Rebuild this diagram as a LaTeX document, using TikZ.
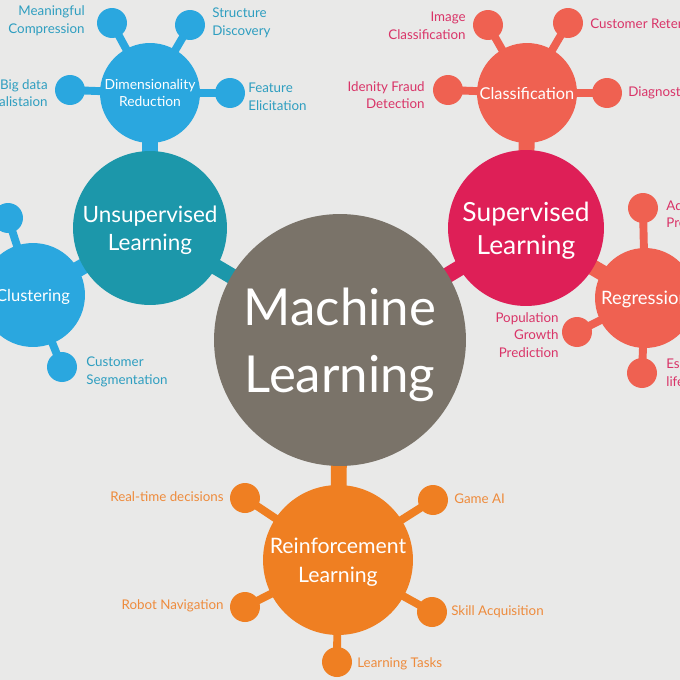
\documentclass[tikz,border=0pt]{standalone}
\usepackage{fontspec}
\setmainfont{Lato}
\usetikzlibrary{positioning}
\definecolor{paper}{HTML}{E9E9E8}
\definecolor{mlgrey}{HTML}{7A7369}
\definecolor{unsup}{HTML}{1C97AA}
\definecolor{sky}{HTML}{2AA7DF}
\definecolor{skytext}{HTML}{2E9EC0}
\definecolor{sup}{HTML}{DE1F57}
\definecolor{coral}{HTML}{EF6151}
\definecolor{coraltext}{HTML}{D93468}
\definecolor{reinf}{HTML}{EF7F22}
\definecolor{reinftext}{HTML}{EE8B3C}
\pgfdeclarelayer{back}
\pgfdeclarelayer{links}
\pgfsetlayers{back,links,main}
\tikzset{
  bubble/.style={circle,inner sep=0pt,minimum size=#1*0.04cm,text=white,align=center,text depth=0pt},
  leaf/.style={bubble=15},
  stem/.style={line width=9pt},
  twig/.style={line width=4.5pt},
  tag/.style={font=\fontsize{7.6}{10}\selectfont,inner sep=0pt},
}

\begin{document}
\begin{tikzpicture}[x=0.02cm,y=-0.02cm]
\begin{pgfonlayer}{back}
\fill[paper] (0,0) rectangle (680,680);
\end{pgfonlayer}
\useasboundingbox (0,0) rectangle (680,680);

% centre
\node[bubble=126,fill=mlgrey,font=\fontsize{29}{38}\selectfont] (ml) at (340,340) {Machine\\Learning};

% unsupervised branch
\node[bubble=77,fill=unsup,font=\fontsize{12.8}{16}\selectfont] (unsup) at (150,228) {Unsupervised\\Learning};
\node[bubble=50,fill=sky,font=\fontsize{7.9}{10}\selectfont] (dim) at (150,93) {Dimensionality\\Reduction};
\node[bubble=52,fill=sky,font=\fontsize{9.4}{11}\selectfont] (clu) at (33,295) {Clustering};
\node[leaf,fill=sky] (dimA) at (112,23) {};
\node[leaf,fill=sky] (dimB) at (190,25) {};
\node[leaf,fill=sky] (dimC) at (70,90) {};
\node[leaf,fill=sky] (dimD) at (230,93) {};
\node[leaf,fill=sky] (cluA) at (8,218) {};
\node[leaf,fill=sky] (cluB) at (62,367) {};

\begin{scope}[every node/.style={tag,text=skytext}]
\node[anchor=east,align=right] (tMeaning) at (85,21) {Meaningful\\Compression};
\node[anchor=west,align=left] (tStruct) at (212,23) {Structure\\Discovery};
\node[anchor=east,align=right] (tBigdata) at (48,93) {Big data\\Visualistaion};
\node[anchor=west,align=left] (tFeature) at (248,97) {Feature\\Elicitation};
\node[anchor=west,align=left] (tSegment) at (86,372) {Customer\\Segmentation};
\end{scope}

% supervised branch
\node[bubble=78,fill=sup,font=\fontsize{15}{19}\selectfont] (sup) at (526,228) {Supervised\\Learning};
\node[bubble=50,fill=coral,font=\fontsize{9.3}{11}\selectfont] (cls) at (527,93) {Classification};
\node[bubble=50,fill=coral,font=\fontsize{10.5}{12}\selectfont] (reg) at (645,298) {Regression};
\node[leaf,fill=coral] (clsA) at (488,25) {};
\node[leaf,fill=coral] (clsB) at (568,23) {};
\node[leaf,fill=coral] (clsC) at (448,90) {};
\node[leaf,fill=coral] (clsD) at (607,93) {};
\node[leaf,fill=coral] (regA) at (643,208) {};
\node[leaf,fill=coral] (regB) at (577,332) {};
\node[leaf,fill=coral] (regC) at (642,373) {};

\begin{scope}[every node/.style={tag,text=coraltext}]
\node[anchor=east,align=right] (tImage) at (466,26) {Image\\Classification};
\node[anchor=west,align=left] (tRetention) at (590,24) {Customer Retention};
\node[anchor=east,align=right] (tFraud) at (425,95) {Idenity Fraud\\Detection};
\node[anchor=west,align=left] (tDiagnose) at (628,93) {Diagnostics};
\node[anchor=west,align=left] (tAdvert) at (666,214) {Advertising Popularity\\Prediction};
\node[anchor=east,align=right] (tPopul) at (559,335) {Population\\Growth\\Prediction};
\node[anchor=west,align=left] (tLife) at (666,374) {Estimating\\life expectancy};
\end{scope}

% reinforcement branch
\node[bubble=75,fill=reinf,font=\fontsize{12.1}{16.4}\selectfont] (rl) at (338,560) {Reinforcement\\Learning};
\node[leaf,fill=reinf] (rlA) at (245,498) {};
\node[leaf,fill=reinf] (rlB) at (433,500) {};
\node[leaf,fill=reinf] (rlC) at (245,607) {};
\node[leaf,fill=reinf] (rlD) at (432,612) {};
\node[leaf,fill=reinf] (rlE) at (337,662) {};

\begin{scope}[every node/.style={tag,text=reinftext}]
\node[anchor=east] (tRealtime) at (224,497) {Real-time decisions};
\node[anchor=west] (tGame) at (454,499) {Game AI};
\node[anchor=east] (tRobot) at (224,606) {Robot Navigation};
\node[anchor=west] (tSkill) at (451,612) {Skill Acquisition};
\node[anchor=west] (tTasks) at (357,664) {Learning Tasks};
\end{scope}

% connectors, under the bubbles
\begin{pgfonlayer}{links}
\draw[stem,unsup] (unsup.center) -- (ml.center);
\draw[stem,sky] (dim.center) -- (unsup.center);
\draw[stem,sky] (clu.center) -- (unsup.center);
\draw[stem,sup] (sup.center) -- (ml.center);
\draw[stem,coral] (cls.center) -- (sup.center);
\draw[stem,coral] (reg.center) -- (sup.center);
\draw[stem,reinf] (rl.center) -- (ml.center);
\foreach \b in {dimA,dimB,dimC,dimD}
  \draw[twig,sky] (dim.center) -- (\b.center);
\foreach \b in {cluA,cluB}
  \draw[twig,sky] (clu.center) -- (\b.center);
\foreach \b in {clsA,clsB,clsC,clsD}
  \draw[twig,coral] (cls.center) -- (\b.center);
\foreach \b in {regA,regB,regC}
  \draw[twig,coral] (reg.center) -- (\b.center);
\foreach \b in {rlA,rlB,rlC,rlD,rlE}
  \draw[twig,reinf] (rl.center) -- (\b.center);
\end{pgfonlayer}
\end{tikzpicture}
\end{document}
